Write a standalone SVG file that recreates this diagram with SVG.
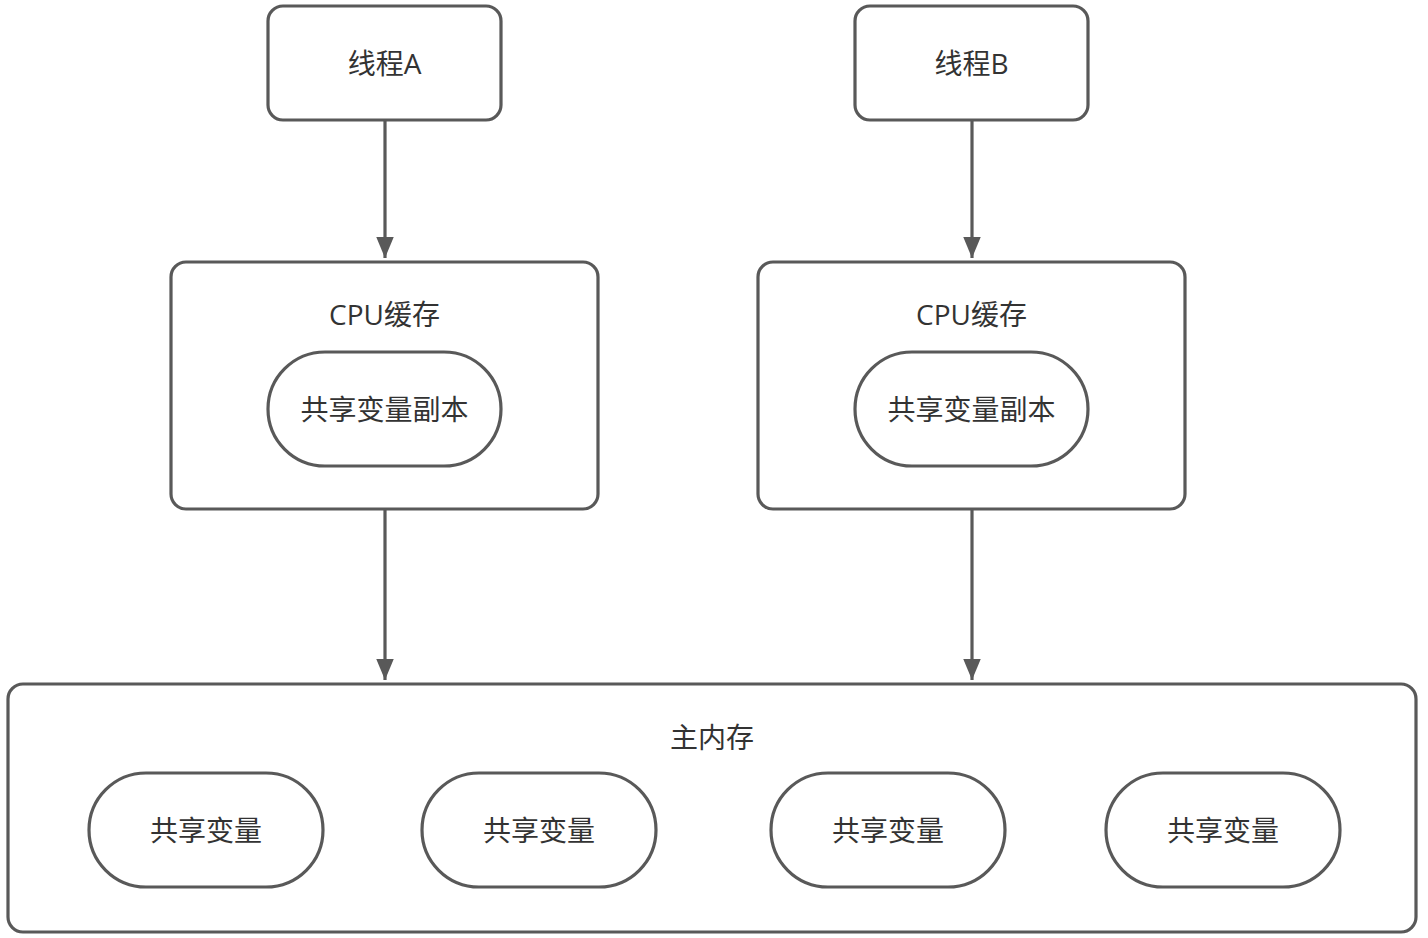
<svg xmlns="http://www.w3.org/2000/svg" width="1428" height="938" viewBox="0 0 1428 938">
<defs>
<style>
.box{fill:#fff;stroke:#595959;stroke-width:3.2}
.t{font-family:"Open Sans","Noto Sans CJK SC",sans-serif;font-size:28px;fill:#333;text-anchor:middle;dominant-baseline:central}
.c{stroke:#595959;stroke-width:3.2;fill:none}
</style>
<marker id="ah" viewBox="0 0 12 10" refX="12" refY="5" markerWidth="6.6" markerHeight="5.5" markerUnits="strokeWidth" orient="auto">
<path d="M0,0 L12,5 L0,10 Z" fill="#595959"/>
</marker>
</defs>
<rect width="1428" height="938" fill="#fff"/>
<g id="connectors">
<path class="c" d="M385,121 L385,258" marker-end="url(#ah)"/>
<path class="c" d="M972,121 L972,258" marker-end="url(#ah)"/>
<path class="c" d="M385,510 L385,680" marker-end="url(#ah)"/>
<path class="c" d="M972,510 L972,680" marker-end="url(#ah)"/>
</g>
<g id="threadA"><rect class="box" x="268" y="6" width="233" height="114" rx="15"/><text class="t" x="384.5" y="63">线程A</text></g>
<g id="threadB"><rect class="box" x="855" y="6" width="233" height="114" rx="15"/><text class="t" x="971.5" y="63">线程B</text></g>
<g id="cpuA"><rect class="box" x="171" y="262" width="427" height="247" rx="15"/><text class="t" x="384.5" y="314">CPU缓存</text></g>
<g id="copyA"><rect class="box" x="268" y="352" width="233" height="114" rx="57"/><text class="t" x="384.5" y="409">共享变量副本</text></g>
<g id="cpuB"><rect class="box" x="758" y="262" width="427" height="247" rx="15"/><text class="t" x="971.5" y="314">CPU缓存</text></g>
<g id="copyB"><rect class="box" x="855" y="352" width="233" height="114" rx="57"/><text class="t" x="971.5" y="409">共享变量副本</text></g>
<g id="mainMemory"><rect class="box" x="8" y="684" width="1408" height="248" rx="15"/><text class="t" x="712" y="737">主内存</text></g>
<g id="var1"><rect class="box" x="89" y="773" width="234" height="114" rx="57"/><text class="t" x="206" y="830">共享变量</text></g>
<g id="var2"><rect class="box" x="422" y="773" width="234" height="114" rx="57"/><text class="t" x="539" y="830">共享变量</text></g>
<g id="var3"><rect class="box" x="771" y="773" width="234" height="114" rx="57"/><text class="t" x="888" y="830">共享变量</text></g>
<g id="var4"><rect class="box" x="1106" y="773" width="234" height="114" rx="57"/><text class="t" x="1223" y="830">共享变量</text></g>
</svg>
